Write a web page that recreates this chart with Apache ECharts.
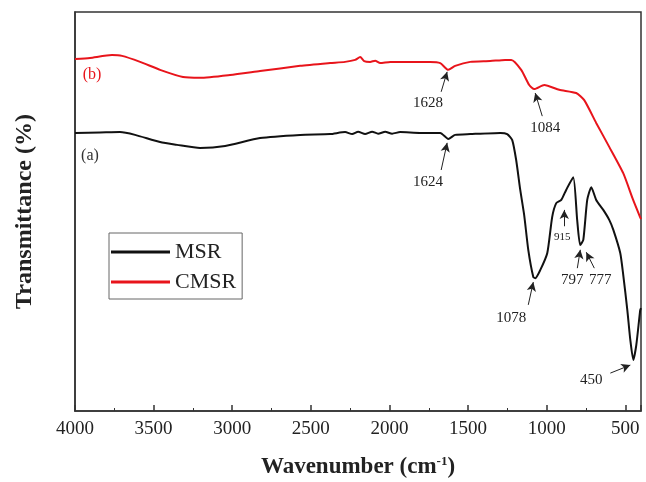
<!DOCTYPE html>
<html>
<head>
<meta charset="utf-8">
<script src="https://cdn.jsdelivr.net/npm/echarts@6/dist/echarts.min.js"></script>
<style>html,body{margin:0;padding:0;background:#fff}#c{width:646px;height:482px}</style>
</head>
<body>
<div id="c"></div>
<script>
// Wavenumber (cm-1) and transmittance (arbitrary %, offset spectra)
const cmsrWn = [4000,3905,3765,3701,3586,3459,3313,3205,3014,2823,2568,2377,2282,2218,2186,2161,2123,2091,2059,1995,1868,1741,1677,1626,1582,1486,1359,1264,1225,1162,1111,1079,1015,920,812,761,685,602,513,450,411,400];
const cmsrT  = [88.2,88.5,89.2,89.0,87.5,85.5,83.7,83.5,84.2,85.2,86.5,87.2,87.5,88.0,88.7,87.7,87.5,87.8,87.2,87.5,87.5,87.5,87.2,85.5,86.5,87.5,87.7,88.0,88.0,85.5,81.7,80.7,81.7,80.5,79.7,77.9,72.2,66.2,59.6,52.9,49.1,48.1];

const msrWn = [4000,3841,3714,3618,3459,3351,3205,3045,2823,2568,2377,2282,2237,2199,2155,2110,2072,2027,1983,1932,1805,1677,1626,1582,1486,1295,1251,1219,1194,1168,1143,1117,1085,1072,1041,996,965,939,907,876,831,806,787,767,742,716,685,640,602,576,532,513,487,468,449,430,405,400];
const msrT  = [69.7,69.8,69.9,69.2,67.4,66.7,65.9,66.4,68.4,69.2,69.4,69.9,69.4,70.0,69.4,70.0,69.5,70.0,69.5,69.9,69.7,69.7,68.2,69.2,69.4,69.7,69.4,67.9,62.9,55.4,49.1,40.4,33.6,33.3,35.3,39.6,48.6,52.1,52.9,55.4,58.6,47.9,41.6,42.9,52.9,56.1,52.9,50.4,47.9,45.4,39.6,34.1,25.3,17.8,12.8,16.5,25.3,25.8];

const seriesNames = ['MSR', 'CMSR'];
const xTicks = [500,1000,1500,2000,2500,3000,3500,4000];

// annotations: text, text position [wn, T], arrow start, arrow end
const annLabels = ['1628','1084','1624','915','797','777','1078','450'];
const annText   = [[1754,77.2],[1009,70.9],[1754,57.4],[901,43.6],[837,32.8],[659,32.8],[1225,23.3],[716,7.8]];
const annFrom   = [[1671,80.0],[1028,73.9],[1671,60.4],[888,46.3],[805,35.8],[697,35.8],[1117,26.6],[595,9.5]];
const annTo     = [[1633,85.0],[1073,79.7],[1633,67.2],[888,50.4],[786,40.4],[748,39.8],[1085,32.3],[468,11.5]];
const annSize   = [15,15,15,11,15,15,15,15];
const tagText = ['(a)','(b)'];
const tagPos  = [[3905,63.9],[3892,84.2]];

const serif = 'Liberation Serif';
const red = '#e8141b';

const markPts = annLabels.map((t,i)=>({
  coord: annText[i], value: t, symbolSize: 0,
  label: {show:true, formatter: t, fontFamily: serif, fontSize: annSize[i], color:'#222', position:'inside'}
})).concat(tagText.map((t,i)=>({
  coord: tagPos[i], value: t, symbolSize: 0,
  label: {show:true, formatter: t, fontFamily: serif, fontSize: 16, color: i===1?red:'#333', position:'inside'}
})));

const markLines = annLabels.map((t,i)=>[
  {coord: annFrom[i]}, {coord: annTo[i]}
]);

const chart = echarts.init(document.getElementById('c'), null, {renderer:'canvas'});
chart.setOption({
  animation: false,
  backgroundColor: '#fff',
  grid: {left: 75, right: 5, top: 12, bottom: 71, show: true, borderColor: '#333', borderWidth: 1.5, containLabel: false, outerBoundsMode: 'none'},
  legend: {
    data: seriesNames, orient: 'vertical', left: 109, top: 233,
    itemWidth: 59, itemHeight: 3, itemGap: 8, icon: 'rect',
    padding: [8, 6, 6, 2], borderColor: '#666', borderWidth: 1,
    textStyle: {fontFamily: serif, fontSize: 22, color: '#222'}
  },
  xAxis: {
    type: 'value', min: 400, max: 4000, inverse: true, splitNumber: 8,
    name: '{b|Wavenumber (cm}{s|-1}{b|)}', nameLocation: 'middle', nameGap: 44,
    nameTextStyle: {rich: {b: {fontFamily: serif, fontWeight: 'bold', fontSize: 23, color: '#222'}, s: {fontFamily: serif, fontWeight: 'bold', fontSize: 13, color: '#222', verticalAlign: 'top', padding:[0,0,12,0]}}},
    axisLine: {show: true, lineStyle: {color: '#333', width: 1.5}},
    axisTick: {show: true, inside: true, length: 6, lineStyle: {color: '#333', width: 1.5}},
    minorTick: {show: true, splitNumber: 2, length: 3, lineStyle: {color: '#333', width: 1}},
    axisLabel: {fontFamily: serif, fontSize: 19, color: '#222', margin: 9, showMinLabel: false,
      formatter: v => xTicks.indexOf(v) >= 0 ? String(v) : ''},
    splitLine: {show: false}
  },
  yAxis: {
    type: 'value', min: 0, max: 100,
    name: 'Transmittance (%)', nameLocation: 'middle', nameGap: 38,
    nameTextStyle: {fontFamily: serif, fontWeight: 'bold', fontSize: 24, color: '#222'},
    axisLine: {show: true, lineStyle: {color: '#333', width: 1.5}},
    axisTick: {show: false}, axisLabel: {show: false}, splitLine: {show: false}
  },
  series: [
    {
      name: 'MSR', type: 'line', symbol: 'none', smooth: 0.2,
      data: msrWn.map((w,i)=>[w, msrT[i]]),
      lineStyle: {color: '#111', width: 2}, itemStyle: {color: '#111'},
      markPoint: {silent: true, data: markPts},
      markLine: {silent: true, symbol: ['none','arrow'], symbolSize: [7, 9],
        label: {show: false}, lineStyle: {color: '#222', width: 1, type: 'solid'}, data: markLines}
    },
    {
      name: 'CMSR', type: 'line', symbol: 'none', smooth: 0.2,
      data: cmsrWn.map((w,i)=>[w, cmsrT[i]]),
      lineStyle: {color: red, width: 2}, itemStyle: {color: red}
    }
  ]
});
</script>
</body>
</html>
